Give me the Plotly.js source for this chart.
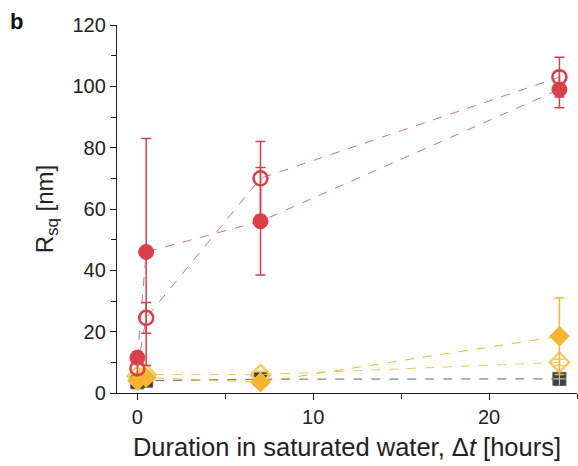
<!DOCTYPE html>
<html>
<head>
<meta charset="utf-8">
<script src="https://cdn.plot.ly/plotly-3.0.1.min.js"></script>
<style>html,body{margin:0;padding:0;background:#fff;}#chart{width:578px;height:466px;}</style>
</head>
<body>
<div id="chart"></div>
<script>
var hours = [0, 0.5, 7, 24];
var redFilled = [11.5, 46, 56, 99];
var redFilledErr = [2, 37, 17.5, 6];
var redOpen = [8, 24.5, 70, 103];
var redOpenErr = [2, 5, 12, 6.5];
var orangeFilled = [4, 5, 3.5, 18.5];
var orangeFilledErr = [1, 1, 1, 12.5];
var orangeOpen = [5.5, 6, 6, 10];
var orangeOpenErr = [1, 1, 1, 1];
var grayVals = [3.5, 4, 4.5, 4.6];
var xTickVals = [0, 10, 20];
var yTickVals = [0, 20, 40, 60, 80, 100, 120];

var RED = '#D8404A', REDL = '#D3717F', OR = '#F5B530', ORL = '#F7C85C', GR = '#3f3f3f';

function trace(y, err, color, lineColor, symbol, size, lw, fill) {
  return {
    x: hours, y: y, type: 'scatter', mode: 'lines+markers',
    line: {color: lineColor, width: 1, dash: 'dash'},
    marker: {symbol: symbol, size: size, color: fill, line: {color: color, width: lw}},
    error_y: err ? {type: 'data', array: err, visible: true, color: color, thickness: 1.5, width: 5} : {visible: false},
    showlegend: false, cliponaxis: false
  };
}

var data = [
  trace(grayVals, null, '#555', '#666', 'square', 13, 1, GR),
  {x: hours, y: grayVals, type: 'scatter', mode: 'markers', showlegend: false, cliponaxis: false,
   marker: {symbol: 'cross-thin-open', size: 9, color: '#bbb', line: {color: '#bbb', width: 1.2}}},
  trace(orangeOpen, orangeOpenErr, ORL, ORL, 'diamond-open', 15, 2.2, ORL),
  trace(orangeFilled, orangeFilledErr, OR, OR, 'diamond', 15, 1, OR),
  trace(redFilled, redFilledErr, RED, REDL, 'circle', 15, 1, RED),
  trace(redOpen, redOpenErr, RED, REDL, 'circle-open', 14, 2.5, RED)
];

var layout = {
  width: 578, height: 466,
  margin: {l: 117, r: 1, t: 25, b: 73},
  paper_bgcolor: '#fff', plot_bgcolor: '#fff',
  font: {family: 'Liberation Sans, Arial, sans-serif', color: '#222'},
  xaxis: {
    range: [-1.16, 25], showgrid: false, zeroline: false, showline: true, linecolor: '#222', linewidth: 1.2,
    tickmode: 'array', tickvals: xTickVals, ticks: 'outside', ticklen: 6, tickcolor: '#222',
    minor: {tickvals: [5, 15, 25], ticks: 'outside', ticklen: 5, tickcolor: '#222'},
    tickfont: {size: 20, color: '#222'},
    title: {text: 'Duration in saturated water, Δ<i>t</i> [hours]', font: {size: 25.5, color: '#222'}, standoff: 11}
  },
  yaxis: {
    range: [0, 120], showgrid: false, zeroline: false, showline: true, linecolor: '#222', linewidth: 1.2,
    tickmode: 'array', tickvals: yTickVals, ticks: 'outside', ticklen: 6, tickcolor: '#222',
    minor: {tickvals: [10, 30, 50, 70, 90, 110], ticks: 'outside', ticklen: 5, tickcolor: '#222'},
    tickfont: {size: 20, color: '#222'},
    title: {text: 'R<sub>sq</sub> [nm]', font: {size: 24, color: '#222'}, standoff: 12}
  },
  annotations: [{
    text: '<b>b</b>', xref: 'paper', yref: 'paper', x: -0.237, y: 1.01, xanchor: 'left', yanchor: 'middle',
    showarrow: false, font: {size: 22, color: '#111'}
  }]
};

Plotly.newPlot('chart', data, layout, {displayModeBar: false, staticPlot: true});
</script>
</body>
</html>
